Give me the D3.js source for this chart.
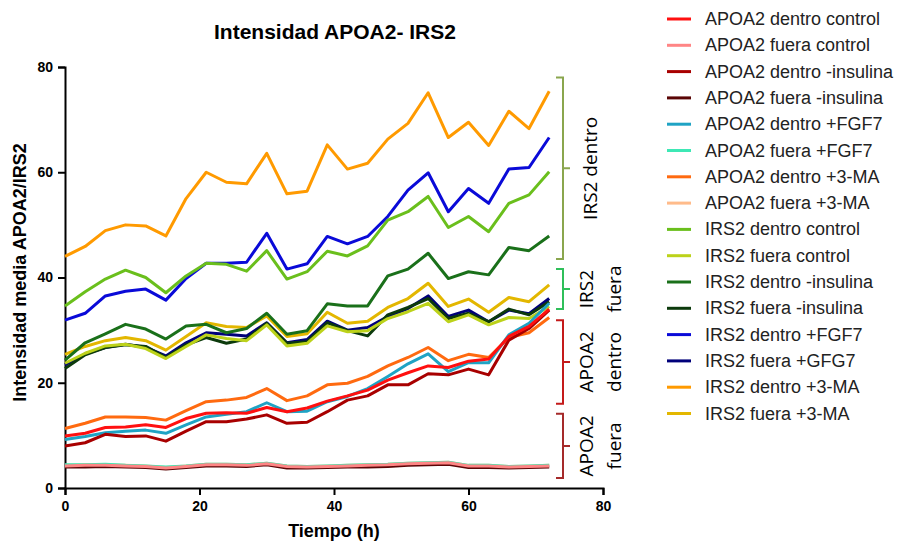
<!DOCTYPE html>
<html>
<head>
<meta charset="utf-8">
<script src="https://cdn.jsdelivr.net/npm/d3@7"></script>
<style>
  html, body { margin: 0; padding: 0; background: #fff; }
  svg { display: block; font-family: "Liberation Sans", Arial, sans-serif; }
</style>
</head>
<body>
<div id="chart"></div>
<script>
// Tiempo (h)
const hours = [0, 3, 6, 9, 12, 15, 18, 21, 24, 27, 30, 33, 36, 39, 42, 45, 48, 51, 54, 57, 60, 63, 66, 69, 72];

// APOA2
const apoaDentroCtrl = [9.9, 10.4, 11.5, 11.6, 12.0, 11.5, 13.2, 14.2, 14.3, 14.2, 15.3, 14.5, 15.2, 16.5, 17.5, 18.6, 20.5, 21.9, 23.2, 22.9, 24.1, 24.5, 28.8, 30.7, 34.0];
const apoaFueraCtrl = [4.2, 4.3, 4.3, 4.2, 4.1, 3.8, 4.1, 4.4, 4.4, 4.3, 4.6, 4.1, 4.0, 4.1, 4.2, 4.3, 4.4, 4.6, 4.7, 4.8, 4.2, 4.2, 4.0, 4.1, 4.2];
const apoaDentroIns = [8.0, 8.6, 10.2, 9.8, 9.9, 8.9, 10.8, 12.6, 12.6, 13.1, 13.9, 12.3, 12.5, 14.5, 16.7, 17.5, 19.6, 19.6, 21.7, 21.5, 22.6, 21.5, 28.1, 30.3, 33.8];
const apoaFueraIns = [4.0, 4.0, 4.1, 4.0, 3.9, 3.6, 3.9, 4.2, 4.2, 4.1, 4.4, 3.8, 3.8, 3.9, 4.0, 4.0, 4.1, 4.3, 4.4, 4.5, 3.9, 3.9, 3.8, 3.9, 4.0];
const apoaDentroFGF7 = [9.2, 9.8, 10.5, 10.8, 11.0, 10.4, 12.0, 13.5, 14.0, 14.5, 16.2, 14.5, 14.6, 16.4, 17.4, 18.9, 21.2, 23.6, 25.5, 22.1, 23.8, 23.8, 29.1, 31.3, 35.1];
const apoaFueraFGF7 = [4.4, 4.4, 4.5, 4.3, 4.2, 4.0, 4.2, 4.5, 4.5, 4.4, 4.7, 4.2, 4.1, 4.2, 4.3, 4.4, 4.5, 4.7, 4.8, 4.9, 4.3, 4.3, 4.1, 4.2, 4.3];
const apoaDentroMA = [11.3, 12.3, 13.5, 13.5, 13.4, 12.9, 14.7, 16.4, 16.7, 17.2, 18.9, 16.6, 17.5, 19.6, 19.9, 21.2, 23.2, 24.8, 26.7, 24.2, 25.4, 24.8, 28.6, 29.5, 32.4];
const apoaFueraMA = [4.3, 4.4, 4.4, 4.3, 4.2, 3.9, 4.2, 4.5, 4.5, 4.4, 4.7, 4.2, 4.1, 4.2, 4.3, 4.4, 4.5, 4.7, 4.8, 4.9, 4.3, 4.3, 4.1, 4.2, 4.3];

// IRS2
const irsDentroCtrl = [34.6, 37.3, 39.7, 41.4, 40.0, 37.1, 40.3, 42.7, 42.5, 41.2, 45.1, 39.7, 41.1, 45.0, 44.1, 46.0, 50.9, 52.5, 55.4, 49.5, 51.6, 48.7, 54.1, 55.7, 60.1];
const irsFueraCtrl = [23.7, 25.6, 27.0, 27.3, 26.5, 24.6, 26.9, 29.1, 28.4, 28.0, 31.0, 27.0, 27.5, 30.8, 29.7, 29.9, 32.2, 33.5, 35.1, 31.6, 32.9, 31.0, 32.4, 32.2, 34.5];
const irsDentroIns = [24.3, 27.6, 29.3, 31.1, 30.2, 28.3, 30.8, 31.1, 29.5, 30.3, 33.2, 29.2, 29.9, 35.0, 34.6, 34.6, 40.3, 41.6, 44.6, 39.8, 41.1, 40.5, 45.7, 45.1, 47.9];
const irsFueraIns = [22.7, 25.3, 26.7, 27.2, 26.9, 24.8, 27.2, 28.6, 27.5, 28.3, 31.3, 27.5, 27.8, 31.4, 29.9, 28.9, 32.9, 34.3, 36.0, 32.2, 33.2, 31.6, 34.0, 32.9, 35.4];
const irsDentroFGF7 = [31.9, 33.2, 36.5, 37.4, 37.8, 35.7, 39.8, 42.7, 42.7, 42.9, 48.4, 41.6, 42.6, 47.8, 46.4, 47.8, 51.6, 56.6, 59.9, 52.5, 56.9, 54.1, 60.6, 60.9, 66.6];
const irsFueraGFG7 = [23.4, 25.5, 26.7, 27.3, 26.7, 25.1, 27.6, 29.5, 29.2, 28.9, 31.4, 27.6, 28.2, 31.7, 30.0, 30.5, 32.6, 34.1, 36.5, 32.6, 33.8, 31.6, 33.8, 33.1, 36.0];
const irsDentroMA = [44.0, 45.9, 48.9, 50.0, 49.8, 47.9, 55.0, 60.0, 58.1, 57.8, 63.6, 55.9, 56.4, 65.2, 60.6, 61.7, 66.3, 69.3, 75.1, 66.6, 69.5, 65.1, 71.6, 68.3, 75.4];
const irsFueraMA = [25.4, 26.9, 28.0, 28.6, 28.0, 26.2, 28.8, 31.4, 30.7, 30.5, 32.7, 28.8, 29.3, 33.4, 31.3, 31.7, 34.3, 36.0, 38.9, 34.5, 35.9, 33.4, 36.2, 35.4, 38.6];

const seriesNames = [
    'APOA2 dentro control', 'APOA2 fuera control', 'APOA2 dentro -insulina', 'APOA2 fuera -insulina',
    'APOA2 dentro +FGF7', 'APOA2 fuera +FGF7', 'APOA2 dentro +3-MA', 'APOA2 fuera +3-MA',
    'IRS2 dentro control', 'IRS2 fuera control', 'IRS2 dentro -insulina', 'IRS2 fuera -insulina',
    'IRS2 dentro +FGF7', 'IRS2 fuera +GFG7', 'IRS2 dentro +3-MA', 'IRS2 fuera +3-MA'
];
const seriesValues = [
    apoaDentroCtrl, apoaFueraCtrl, apoaDentroIns, apoaFueraIns,
    apoaDentroFGF7, apoaFueraFGF7, apoaDentroMA, apoaFueraMA,
    irsDentroCtrl, irsFueraCtrl, irsDentroIns, irsFueraIns,
    irsDentroFGF7, irsFueraGFG7, irsDentroMA, irsFueraMA
];
const seriesColors = [
    '#ff1010', '#ff8585', '#a80000', '#5a0505',
    '#1fa3c4', '#3ee8b5', '#ff6a10', '#ffbb8a',
    '#6abf1c', '#bcd21a', '#1a701a', '#0c3a0c',
    '#0a0ad8', '#00007a', '#ff9a00', '#e3b700'
];

const xTicks = [0, 20, 40, 60, 80];
const yTicks = [0, 20, 40, 60, 80];

// grupos (llaves a la derecha)
const groupLabels = [['IRS2 dentro'], ['IRS2', 'fuera'], ['APOA2', 'dentro'], ['APOA2', 'fuera']];
const groupRanges = [[43.5, 78], [34, 41.6], [16, 31.9], [1.9, 14.1]];
const groupColors = ['#8aa64e', '#2fbf5a', '#c41a1a', '#a52a2a'];

const W = 903, H = 542;
const svg = d3.select('#chart').append('svg').attr('width', W).attr('height', H);

const x = d3.scaleLinear().domain([0, 80]).range([65, 603]);
const y = d3.scaleLinear().domain([0, 80]).range([488, 67]);

// title
svg.append('text')
    .attr('x', 335).attr('y', 39)
    .attr('text-anchor', 'middle')
    .style('font-size', '21px').style('font-weight', 'bold')
    .text('Intensidad APOA2- IRS2');

// axes
const xAxis = svg.append('g')
    .attr('transform', `translate(0, ${y(0)})`)
    .call(d3.axisBottom(x).tickValues(xTicks).tickSize(7).tickPadding(6));
const yAxis = svg.append('g')
    .attr('transform', `translate(${x(0)}, 0)`)
    .call(d3.axisLeft(y).tickValues(yTicks).tickSize(7).tickPadding(5));
[xAxis, yAxis].forEach(a => {
    a.select('.domain').attr('stroke', '#000').attr('stroke-width', 2);
    a.selectAll('.tick line').attr('stroke', '#000').attr('stroke-width', 2);
    a.selectAll('.tick text')
        .style('font-size', '14px').style('font-weight', 'bold')
        .style('font-family', '"Liberation Sans", Arial, sans-serif').attr('fill', '#000');
});

svg.append('text')
    .attr('x', x(40)).attr('y', 537)
    .attr('text-anchor', 'middle')
    .style('font-size', '18px').style('font-weight', 'bold')
    .text('Tiempo (h)');
svg.append('text')
    .attr('transform', `translate(26, ${y(40) - 5}) rotate(-90)`)
    .attr('text-anchor', 'middle')
    .style('font-size', '18px').style('font-weight', 'bold')
    .text('Intensidad media APOA2/IRS2');

// lines, first series on top
const line = d3.line().x((d, i) => x(hours[i])).y(d => y(d));
const order = d3.range(seriesValues.length).reverse();
svg.append('g').selectAll('path')
    .data(order)
    .join('path')
    .attr('d', i => line(seriesValues[i]))
    .attr('fill', 'none')
    .attr('stroke', i => seriesColors[i])
    .attr('stroke-width', 3)
    .attr('stroke-linejoin', 'round');

// brackets
const bx = 563;
groupRanges.forEach((r, gi) => {
    const y0 = y(r[1]), y1 = y(r[0]), ym = (y0 + y1) / 2;
    const g = svg.append('g');
    g.append('path')
        .attr('d', `M${bx - 7},${y0} H${bx} V${y1} H${bx - 7} M${bx},${ym} H${bx + 7}`)
        .attr('fill', 'none').attr('stroke', groupColors[gi]).attr('stroke-width', 2);
    const lines = groupLabels[gi];
    lines.forEach((t, li) => {
        const tx = lines.length === 1 ? 597 : 593 + li * 28;
        g.append('text')
            .attr('transform', `translate(${tx}, ${ym}) rotate(-90)`)
            .attr('text-anchor', 'middle')
            .style('font-size', '19px')
            .style('font-family', '"Open Sans", "Liberation Sans", sans-serif')
            .attr('fill', '#000')
            .text(t);
    });
});

// legend
const legend = svg.append('g').attr('transform', 'translate(667, 19)');
seriesNames.forEach((name, i) => {
    const row = legend.append('g').attr('transform', `translate(0, ${i * 26.3})`);
    row.append('line')
        .attr('x1', 0).attr('x2', 24).attr('y1', 0).attr('y2', 0)
        .attr('stroke', seriesColors[i]).attr('stroke-width', 3);
    row.append('text')
        .attr('x', 38).attr('y', 6)
        .style('font-size', '18px')
        .attr('fill', '#222')
        .text(name);
});
</script>
</body>
</html>
